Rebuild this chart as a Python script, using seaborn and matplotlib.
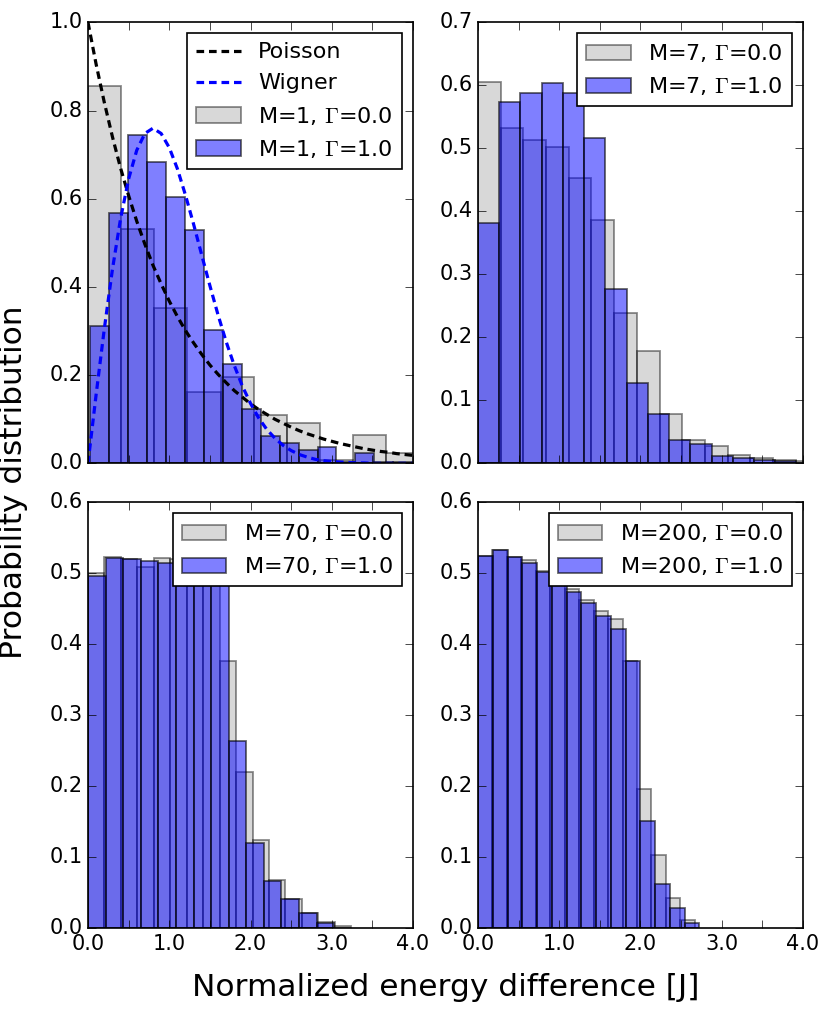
import numpy as np
import matplotlib
matplotlib.use("Agg")
import matplotlib.pyplot as plt
import seaborn as sns

# theory curves (at steps of 0.1)
s_grid = np.linspace(0.0, 4.0, 41)
poisson = [1.000, 0.905, 0.819, 0.741, 0.670, 0.607, 0.549, 0.497, 0.449, 0.407,
           0.368, 0.333, 0.301, 0.273, 0.247, 0.223, 0.202, 0.183, 0.165, 0.150,
           0.135, 0.122, 0.111, 0.100, 0.091, 0.082, 0.074, 0.067, 0.061, 0.055,
           0.050, 0.045, 0.041, 0.037, 0.033, 0.030, 0.027, 0.025, 0.022, 0.020, 0.018]
wigner = [0.000, 0.156, 0.304, 0.439, 0.554, 0.645, 0.710, 0.748, 0.760, 0.748,
          0.716, 0.668, 0.608, 0.542, 0.472, 0.403, 0.337, 0.276, 0.222, 0.175,
          0.136, 0.103, 0.077, 0.057, 0.041, 0.029, 0.020, 0.014, 0.009, 0.006,
          0.004, 0.003, 0.002, 0.001, 0.001, 0.000, 0.000, 0.000, 0.000, 0.000, 0.000]

# histogram heights (density) and the data range the bins span
m1_g0 = [0.856, 0.531, 0.353, 0.161, 0.195, 0.109, 0.092, 0.008, 0.065, 0.023]
m1_g0_range = (0.0, 4.08)
m1_g1 = [0.311, 0.567, 0.745, 0.683, 0.605, 0.528, 0.302, 0.225, 0.124, 0.063,
         0.047, 0.030, 0.038, 0.004, 0.023, 0.003, 0.002]
m1_g1_range = (0.029, 3.99)

m7_g0 = [0.606, 0.532, 0.513, 0.502, 0.453, 0.386, 0.238, 0.178, 0.079, 0.037,
         0.028, 0.013, 0.0085, 0.005, 0.003]
m7_g0_range = (0.0, 4.19)
m7_g1 = [0.382, 0.574, 0.588, 0.604, 0.588, 0.517, 0.276, 0.127, 0.079, 0.037,
         0.031, 0.011, 0.0085, 0.005, 0.004]
m7_g1_range = (0.0, 3.92)

m70_g0 = [0.501, 0.523, 0.520, 0.509, 0.522, 0.520, 0.512, 0.505, 0.377, 0.220,
          0.124, 0.068, 0.041, 0.022, 0.009, 0.003]
m70_g0_range = (0.0, 3.24)
m70_g1 = [0.496, 0.522, 0.520, 0.518, 0.514, 0.510, 0.505, 0.500, 0.264, 0.120,
          0.066, 0.041, 0.022, 0.008]
m70_g1_range = (0.0, 3.03)

m200_g0 = [0.524, 0.533, 0.523, 0.519, 0.503, 0.490, 0.478, 0.462, 0.447, 0.435,
           0.377, 0.196, 0.103, 0.043, 0.011]
m200_g0_range = (0.0, 2.668)
m200_g1 = [0.524, 0.533, 0.523, 0.515, 0.502, 0.488, 0.473, 0.458, 0.440, 0.422,
           0.377, 0.151, 0.062, 0.028, 0.007]
m200_g1_range = (0.0, 2.726)

x_ticks = [0.0, 0.5, 1.0, 1.5, 2.0, 2.5, 3.0, 3.5, 4.0]
x_ticklabels = ["0.0", "", "1.0", "", "2.0", "", "3.0", "", "4.0"]
y_ticks_tl = [0.0, 0.2, 0.4, 0.6, 0.8, 1.0]
y_ticks_tr = [0.0, 0.1, 0.2, 0.3, 0.4, 0.5, 0.6, 0.7]
y_ticks_b = [0.0, 0.1, 0.2, 0.3, 0.4, 0.5, 0.6]

plt.style.use("classic")
plt.rcParams.update({
    "figure.facecolor": "white",
    "savefig.facecolor": "white",
    "font.family": ["DejaVu Sans"],
    "mathtext.fontset": "cm",
    "xtick.labelsize": 15,
    "ytick.labelsize": 15,
    "legend.fontsize": 16,
    "xtick.major.size": 6,
    "ytick.major.size": 6,
    "axes.linewidth": 1.2,
})


def draw_hist(ax, heights, rng, color, alpha, edge_alpha, label):
    # one bar per height, bins spread evenly over the data range
    n = len(heights)
    edges = np.linspace(rng[0], rng[1], n + 1)
    centers = (edges[:-1] + edges[1:]) / 2
    sns.histplot(x=centers, weights=np.asarray(heights), bins=n, binrange=rng,
                 stat="count", color=color, alpha=alpha,
                 edgecolor=(0, 0, 0, edge_alpha), linewidth=1.3,
                 label=label, ax=ax)


fig = plt.figure(figsize=(8.31, 10.21), dpi=100)
ax_tl = fig.add_axes([0.1059, 0.5462, 0.3911, 0.4319])
ax_tr = fig.add_axes([0.5752, 0.5462, 0.3911, 0.4319])
ax_bl = fig.add_axes([0.1059, 0.0908, 0.3911, 0.4172])
ax_br = fig.add_axes([0.5752, 0.0908, 0.3911, 0.4172])

panels = [
    (ax_tl, "1", m1_g0, m1_g0_range, m1_g1, m1_g1_range, y_ticks_tl),
    (ax_tr, "7", m7_g0, m7_g0_range, m7_g1, m7_g1_range, y_ticks_tr),
    (ax_bl, "70", m70_g0, m70_g0_range, m70_g1, m70_g1_range, y_ticks_b),
    (ax_br, "200", m200_g0, m200_g0_range, m200_g1, m200_g1_range, y_ticks_b),
]

for ax, m, g0, r0, g1, r1, yt in panels:
    draw_hist(ax, g0, r0, "gray", 0.3, 0.45, "M=%s, $\\Gamma$=0.0" % m)
    draw_hist(ax, g1, r1, "blue", 0.5, 0.6, "M=%s, $\\Gamma$=1.0" % m)
    if ax is ax_tl:
        sns.lineplot(x=s_grid, y=poisson, color="black", lw=2.3,
                     linestyle=(0, (5.5, 3.5)), label="Poisson", ax=ax)
        sns.lineplot(x=s_grid, y=wigner, color="blue", lw=2.3,
                     linestyle=(0, (5.5, 3.5)), label="Wigner", ax=ax)
    ax.set_xlim(0, 4)
    ax.set_ylim(yt[0], yt[-1])
    ax.set_xticks(x_ticks)
    ax.set_yticks(yt)
    ax.set_yticklabels(["%.1f" % v for v in yt])
    ax.set_xlabel("")
    ax.set_ylabel("")
    if ax in (ax_bl, ax_br):
        ax.set_xticklabels(x_ticklabels)
    else:
        ax.tick_params(labelbottom=False)
    ax.tick_params(direction="in", top=True, right=True)
    leg = ax.legend(loc="upper right", fontsize=16, borderaxespad=0.5,
                    handlelength=2.0, handletextpad=0.8, numpoints=1,
                    fancybox=False, framealpha=1.0)
    leg.get_frame().set_edgecolor("black")
    leg.get_frame().set_linewidth(1.2)

fig.text(0.016, 0.528, "Probability distribution", rotation=90,
         ha="center", va="center", fontsize=22.5)
fig.text(0.536, 0.024, "Normalized energy difference [J]",
         ha="center", va="baseline", fontsize=22.5)

fig.savefig("out.png", dpi=100)
